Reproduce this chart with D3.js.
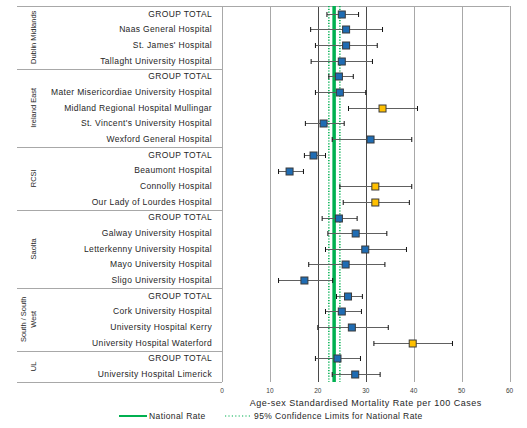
<!DOCTYPE html>
<html>
<head>
<meta charset="utf-8">
<script src="https://cdn.jsdelivr.net/npm/d3@7"></script>
<style>
  html, body { margin: 0; padding: 0; background: #fff; }
  svg { display: block; font-family: "Liberation Sans", Arial, sans-serif; }
</style>
</head>
<body>
<svg id="chart" width="527" height="428"></svg>
<script>
// ---- Data ----
const groups = ["Dublin Midlands", "Ireland East", "RCSI", "Saolta", "South / South West", "UL"];
const hospitals = [
  "GROUP TOTAL", "Naas General Hospital", "St. James' Hospital", "Tallaght University Hospital",
  "GROUP TOTAL", "Mater Misericordiae University Hospital", "Midland Regional Hospital Mullingar", "St. Vincent's University Hospital", "Wexford General Hospital",
  "GROUP TOTAL", "Beaumont Hospital", "Connolly Hospital", "Our Lady of Lourdes Hospital",
  "GROUP TOTAL", "Galway University Hospital", "Letterkenny University Hospital", "Mayo University Hospital", "Sligo University Hospital",
  "GROUP TOTAL", "Cork University Hospital", "University Hospital Kerry", "University Hospital Waterford",
  "GROUP TOTAL", "University Hospital Limerick"
];
const hospitalGroup = [
  0,0,0,0,
  1,1,1,1,1,
  2,2,2,2,
  3,3,3,3,3,
  4,4,4,4,
  5,5
];
const rate  = [25.0, 25.9, 25.9, 25.0, 24.4, 24.6, 33.5, 21.2, 31.0, 19.1, 14.1, 32.0, 32.0, 24.4, 27.9, 29.9, 25.8, 17.2, 26.3, 25.0, 27.1, 39.8, 24.1, 27.8];
const lower = [21.9, 18.5, 19.5, 18.6, 22.3, 19.5, 26.4, 17.4, 23.0, 17.2, 11.8, 24.6, 25.3, 20.9, 22.1, 21.6, 18.1, 11.8, 23.9, 21.6, 20.0, 31.7, 19.5, 23.0];
const upper = [28.5, 33.5, 32.4, 31.4, 27.4, 30.0, 40.8, 25.5, 39.6, 21.6, 17.0, 39.6, 39.1, 28.2, 34.4, 38.5, 34.0, 23.1, 29.3, 29.1, 34.7, 48.1, 28.9, 33.0];
const outlier = [false,false,false,false,false,false,true,false,false,false,false,true,true,false,false,false,false,false,false,false,false,true,false,false];
const nationalRate = 23.4;
const nationalLower = 22.3;
const nationalUpper = 24.6;
const xTicks = [0, 10, 20, 30, 40, 50, 60];
const xTitle = "Age-sex Standardised Mortality  Rate per 100 Cases";
const legendLabels = ["National Rate", "95% Confidence Limits for National Rate"];

// ---- Layout ----
const svg = d3.select("#chart");
const plotLeft = 222, plotRight = 509.5, plotTop = 6, plotBottom = 382;
const labelLeft = 17;

const x = d3.scaleLinear().domain([0, 60]).range([plotLeft, plotRight]);
const y = d3.scaleBand().domain(d3.range(hospitals.length)).range([plotTop, plotBottom]).padding(0);
const yc = i => y(i) + y.bandwidth() / 2;

// gridlines
const darkTicks = [20, 30];
svg.append("g").selectAll("line").data(xTicks).join("line")
  .attr("x1", d => Math.round(x(d)) + 0.5).attr("x2", d => Math.round(x(d)) + 0.5)
  .attr("y1", plotTop).attr("y2", plotBottom)
  .attr("stroke", d => darkTicks.includes(d) ? "#4a4a4a" : "#a8a8a8")
  .attr("stroke-width", 1);

// top border line (label area + plot)
svg.append("line").attr("x1", labelLeft).attr("x2", plotRight).attr("y1", plotTop + 0.5).attr("y2", plotTop + 0.5)
  .attr("stroke", "#a8a8a8");

// group separators in label area
const groupStarts = groups.map((g, gi) => hospitalGroup.indexOf(gi));
const groupEnds = groups.map((g, gi) => hospitalGroup.lastIndexOf(gi));
svg.append("g").selectAll("line").data(groups).join("line")
  .attr("x1", labelLeft).attr("x2", plotLeft)
  .attr("y1", (d, gi) => Math.round(y(groupEnds[gi]) + y.bandwidth()) + 0.5)
  .attr("y2", (d, gi) => Math.round(y(groupEnds[gi]) + y.bandwidth()) + 0.5)
  .attr("stroke", "#a8a8a8");

// hospital labels
svg.append("g").selectAll("text").data(hospitals).join("text")
  .attr("x", 212).attr("y", (d, i) => yc(i))
  .attr("dy", "0.35em")
  .attr("text-anchor", "end")
  .attr("font-size", 8.5)
  .attr("letter-spacing", 0.35)
  .attr("fill", "#262626")
  .text(d => d);

// group labels (rotated)
groups.forEach((g, gi) => {
  const cy = (y(groupStarts[gi]) + y(groupEnds[gi]) + y.bandwidth()) / 2;
  const lines = g === "South / South West" ? ["South / South", "West"] : [g];
  const t = svg.append("text")
    .attr("transform", `translate(${lines.length > 1 ? 23 : 33},${cy}) rotate(-90)`)
    .attr("text-anchor", "middle")
    .attr("font-size", 7.5)
    .attr("fill", "#262626");
  lines.forEach((l, li) => {
    t.append("tspan").attr("x", 0).attr("dy", li === 0 ? "0.35em" : "1.35em").text(l);
  });
});

// national rate lines
svg.append("line").attr("x1", x(nationalRate)).attr("x2", x(nationalRate))
  .attr("y1", plotTop).attr("y2", plotBottom)
  .attr("stroke", "#00b050").attr("stroke-width", 3.5);
[nationalLower, nationalUpper].forEach(v => {
  svg.append("line").attr("x1", x(v)).attr("x2", x(v))
    .attr("y1", plotTop).attr("y2", plotBottom)
    .attr("stroke", "#00b050").attr("stroke-width", 1.5)
    .attr("stroke-dasharray", "1.2,1.6");
});

// error bars
const eb = svg.append("g");
hospitals.forEach((h, i) => {
  const cy = Math.round(yc(i)) + 0.5;
  eb.append("line").attr("x1", x(lower[i])).attr("x2", x(upper[i]))
    .attr("y1", cy).attr("y2", cy).attr("stroke", "#606060").attr("stroke-width", 1);
  [lower[i], upper[i]].forEach(v => {
    eb.append("line").attr("x1", x(v)).attr("x2", x(v))
      .attr("y1", cy - 2.5).attr("y2", cy + 2.5).attr("stroke", "#111").attr("stroke-width", 1);
  });
});

// markers
const ms = 7;
svg.append("g").selectAll("rect").data(rate).join("rect")
  .attr("x", d => x(d) - ms / 2)
  .attr("y", (d, i) => Math.round(yc(i)) + 0.5 - ms / 2)
  .attr("width", ms).attr("height", ms)
  .attr("fill", (d, i) => outlier[i] ? "#ffc000" : "#1f6cb3")
  .attr("stroke", "#3a3a3a").attr("stroke-width", 1);

// x-axis tick labels
svg.append("g").selectAll("text").data(xTicks).join("text")
  .attr("x", d => x(d)).attr("y", 391).attr("dy", "0.35em")
  .attr("text-anchor", "middle").attr("font-size", 6.5).attr("fill", "#404040")
  .text(d => d);

// x-axis title
svg.append("text").attr("x", (plotLeft + plotRight) / 2).attr("y", 403).attr("dy", "0.35em")
  .attr("text-anchor", "middle").attr("font-size", 9).attr("letter-spacing", 0.5).attr("fill", "#262626")
  .text(xTitle);

// legend
const ly = 416;
svg.append("line").attr("x1", 119).attr("x2", 147).attr("y1", ly).attr("y2", ly)
  .attr("stroke", "#00b050").attr("stroke-width", 2);
svg.append("text").attr("x", 149).attr("y", ly).attr("dy", "0.35em")
  .attr("font-size", 8.5).attr("letter-spacing", 0.4).attr("fill", "#262626").text(legendLabels[0]);
svg.append("line").attr("x1", 225).attr("x2", 250).attr("y1", ly).attr("y2", ly)
  .attr("stroke", "#00b050").attr("stroke-width", 1.2).attr("stroke-dasharray", "1.2,2.2");
svg.append("text").attr("x", 254).attr("y", ly).attr("dy", "0.35em")
  .attr("font-size", 8.5).attr("letter-spacing", 0.4).attr("fill", "#262626").text(legendLabels[1]);
</script>
</body>
</html>
